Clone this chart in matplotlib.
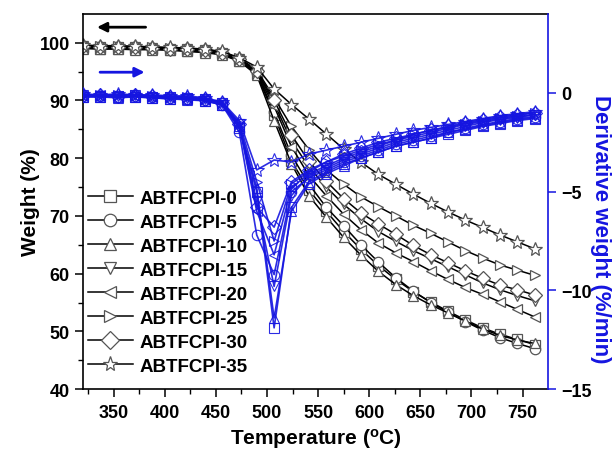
import matplotlib
matplotlib.use("Agg")
import matplotlib.pyplot as plt
from matplotlib.lines import Line2D

plt.rcParams["font.family"] = ["Liberation Sans", "DejaVu Sans"]
plt.rcParams["font.weight"] = "bold"
plt.rcParams["axes.labelweight"] = "bold"

# temperature grid (deg C) shared by all curves
temp = [320, 337, 354, 371, 388, 405, 422, 439, 456, 473, 490, 507, 524, 541,
        558, 575, 592, 609, 626, 643, 660, 677, 694, 711, 728, 745, 762]

labels = ["ABTFCPI-0", "ABTFCPI-5", "ABTFCPI-10", "ABTFCPI-15",
          "ABTFCPI-20", "ABTFCPI-25", "ABTFCPI-30", "ABTFCPI-35"]
markers = ["s", "o", "^", "v", "<", ">", "D", "*"]

# TGA weight (%)
w0 = [99.1, 99.0, 99.0, 98.9, 98.9, 98.8, 98.6, 98.4, 98.0, 96.9, 94.6, 87.5, 79.5,
      74.5, 70.8, 67.3, 64.2, 61.4, 59.0, 56.9, 55.1, 53.5, 52.0, 50.6, 49.5, 48.6, 47.7]
w5 = [99.3, 99.2, 99.2, 99.1, 99.0, 98.9, 98.8, 98.6, 98.2, 97.1, 94.8, 88.0, 80.5,
      75.5, 71.5, 68.3, 65.0, 62.0, 59.3, 57.0, 55.0, 53.3, 51.7, 50.2, 48.9, 47.9, 47.0]
w10 = [99.0, 98.9, 98.9, 98.8, 98.8, 98.7, 98.5, 98.3, 97.9, 96.8, 94.4, 86.5, 79.0,
       73.5, 69.8, 66.3, 63.2, 60.4, 58.1, 56.2, 54.6, 53.2, 51.8, 50.4, 49.3, 48.5, 47.9]
w15 = [99.4, 99.3, 99.3, 99.2, 99.1, 99.0, 98.9, 98.7, 98.3, 97.2, 95.0, 89.5, 83.0,
       78.5, 75.0, 72.0, 69.5, 67.3, 65.6, 64.0, 62.6, 61.2, 59.8, 58.4, 57.2, 56.2, 55.3]
w20 = [99.3, 99.2, 99.2, 99.1, 99.0, 98.9, 98.8, 98.6, 98.2, 97.0, 94.7, 89.0, 82.0,
       77.0, 73.5, 70.3, 67.6, 65.3, 63.6, 62.1, 60.5, 59.0, 57.6, 56.4, 55.1, 53.8, 52.5]
w25 = [99.5, 99.4, 99.4, 99.3, 99.2, 99.1, 99.0, 98.8, 98.4, 97.3, 95.3, 90.5, 85.5,
       81.5, 78.0, 75.5, 73.3, 71.6, 70.0, 68.4, 67.0, 65.5, 64.0, 62.7, 61.5, 60.6, 59.7]
w30 = [99.4, 99.3, 99.3, 99.2, 99.1, 99.0, 98.9, 98.7, 98.3, 97.2, 95.1, 90.0, 84.0,
       79.5, 76.0, 73.0, 70.5, 68.6, 66.8, 64.9, 63.3, 61.9, 60.5, 59.2, 58.0, 57.2, 56.3]
w35 = [99.6, 99.5, 99.5, 99.4, 99.3, 99.2, 99.1, 98.9, 98.5, 97.4, 95.8, 92.0, 89.3,
       86.8, 84.2, 81.6, 79.3, 77.2, 75.5, 73.8, 72.2, 70.7, 69.3, 68.0, 66.7, 65.5, 64.3]

# DTG derivative weight (%/min)
d0 = [-0.2, -0.2, -0.2, -0.2, -0.25, -0.3, -0.3, -0.4, -0.6, -1.8, -5.0, -11.9, -5.8,
      -4.5, -4.0, -3.6, -3.3, -3.0, -2.7, -2.5, -2.3, -2.1, -1.9, -1.7, -1.55, -1.4, -1.3]
d5 = [-0.15, -0.15, -0.2, -0.15, -0.2, -0.25, -0.3, -0.35, -0.6, -2.0, -7.2, -9.2, -5.0,
      -4.3, -3.9, -3.5, -3.2, -2.9, -2.6, -2.4, -2.2, -2.0, -1.8, -1.6, -1.45, -1.3, -1.2]
d10 = [-0.2, -0.2, -0.25, -0.2, -0.25, -0.3, -0.35, -0.4, -0.6, -1.7, -4.8, -11.4, -6.0,
       -4.6, -4.1, -3.7, -3.3, -3.0, -2.7, -2.5, -2.3, -2.0, -1.85, -1.65, -1.5, -1.35, -1.25]
d15 = [-0.1, -0.15, -0.15, -0.1, -0.2, -0.2, -0.25, -0.3, -0.5, -1.6, -5.5, -9.8, -5.2,
       -4.2, -3.8, -3.4, -3.1, -2.8, -2.5, -2.3, -2.1, -1.9, -1.7, -1.5, -1.35, -1.25, -1.1]
d20 = [-0.15, -0.1, -0.15, -0.15, -0.2, -0.2, -0.25, -0.3, -0.5, -1.7, -6.0, -8.2, -4.8,
       -4.1, -3.7, -3.3, -3.0, -2.7, -2.4, -2.2, -2.0, -1.8, -1.6, -1.45, -1.3, -1.2, -1.1]
d25 = [-0.1, -0.1, -0.1, -0.1, -0.15, -0.2, -0.2, -0.3, -0.5, -1.5, -4.5, -7.5, -4.6,
       -4.0, -3.5, -3.2, -2.9, -2.6, -2.4, -2.1, -1.9, -1.75, -1.55, -1.4, -1.25, -1.15, -1.0]
d30 = [-0.1, -0.1, -0.15, -0.1, -0.15, -0.2, -0.25, -0.3, -0.5, -1.6, -5.8, -6.8, -4.5,
       -3.9, -3.5, -3.1, -2.8, -2.5, -2.3, -2.1, -1.9, -1.7, -1.5, -1.35, -1.2, -1.1, -1.0]
d35 = [-0.05, -0.1, -0.05, -0.1, -0.1, -0.15, -0.15, -0.25, -0.45, -1.4, -3.9, -3.4, -3.5,
       -3.1, -2.9, -2.7, -2.5, -2.3, -2.1, -1.9, -1.75, -1.6, -1.45, -1.3, -1.15, -1.05, -0.95]

weights = [w0, w5, w10, w15, w20, w25, w30, w35]
derivs = [d0, d5, d10, d15, d20, d25, d30, d35]

BLUE = "#1515e0"

fig = plt.figure(figsize=(6.16, 4.52), dpi=100)
ax = fig.add_axes([0.1347, 0.137, 0.755, 0.830])
ax2 = ax.twinx()

for w, m, lab in zip(weights, markers, labels):
    ms = 10 if m == "*" else 7.5
    ax.plot(temp, w, "-", color="black", lw=1.1, marker=m, ms=ms,
            mfc="white", mec="#555555", mew=0.9, label=lab)

for d, m in zip(derivs, markers):
    ms = 10 if m == "*" else 7.5
    ax2.plot(temp, d, "-", color=BLUE, lw=1.2, marker=m, ms=ms,
             mfc="none", mec=BLUE, mew=0.8, alpha=0.9)

ax.set_xlim(320, 775)
ax.set_ylim(40, 105)
ax2.set_ylim(-15, 4)

ax.set_xticks([350, 400, 450, 500, 550, 600, 650, 700, 750])
ax.set_xticks(range(325, 775, 25), minor=True)
ax.set_yticks([40, 50, 60, 70, 80, 90, 100])
ax.set_yticks(range(45, 105, 10), minor=True)
ax2.set_yticks([-15, -10, -5, 0])

ax.tick_params(axis="both", which="major", direction="out", length=6, width=1.1,
               labelsize=13)
ax.tick_params(axis="both", which="minor", direction="out", length=3.5, width=1.0)
ax.tick_params(axis="x", pad=5)
ax.tick_params(axis="y", which="both", right=False)
ax2.tick_params(axis="y", direction="out", length=6, width=1.1, color=BLUE,
                labelsize=13, labelcolor="black")

for s in ["left", "bottom", "top"]:
    ax.spines[s].set_linewidth(1.2)
ax.spines["right"].set_visible(False)
ax2.spines["right"].set_color(BLUE)
ax2.spines["right"].set_linewidth(1.2)
for s in ["left", "bottom", "top"]:
    ax2.spines[s].set_visible(False)

ax.set_xlabel("Temperature ($\\mathregular{^{o}}$C)", fontsize=15, labelpad=3)
ax.set_ylabel("Weight (%)", fontsize=15, labelpad=0)
ax2.set_ylabel("Derivative weight (%/min)", fontsize=16, color=BLUE,
               rotation=270, labelpad=22)
ax2.yaxis.set_label_coords(1.135, 0.43)

ax.annotate("", xy=(331, 102.7), xytext=(384, 102.7),
            arrowprops=dict(arrowstyle="-|>", color="black", lw=2.0,
                            mutation_scale=14))
ax.annotate("", xy=(383, 94.9), xytext=(334, 94.9),
            arrowprops=dict(arrowstyle="-|>", color=BLUE, lw=2.0,
                            mutation_scale=14))

handles = [Line2D([], [], color="black", lw=1.1, marker=m,
                  ms=(11 if m == "*" else 9), mfc="white", mec="#555555", mew=0.9)
           for m in markers]
ax2.legend(handles, labels, loc="upper left", bbox_to_anchor=(0.01, 0.532),
           frameon=False, fontsize=13.5, handlelength=2.4, handletextpad=0.35,
           labelspacing=0.37, borderpad=0, borderaxespad=0)

fig.savefig("out.png", dpi=100)
